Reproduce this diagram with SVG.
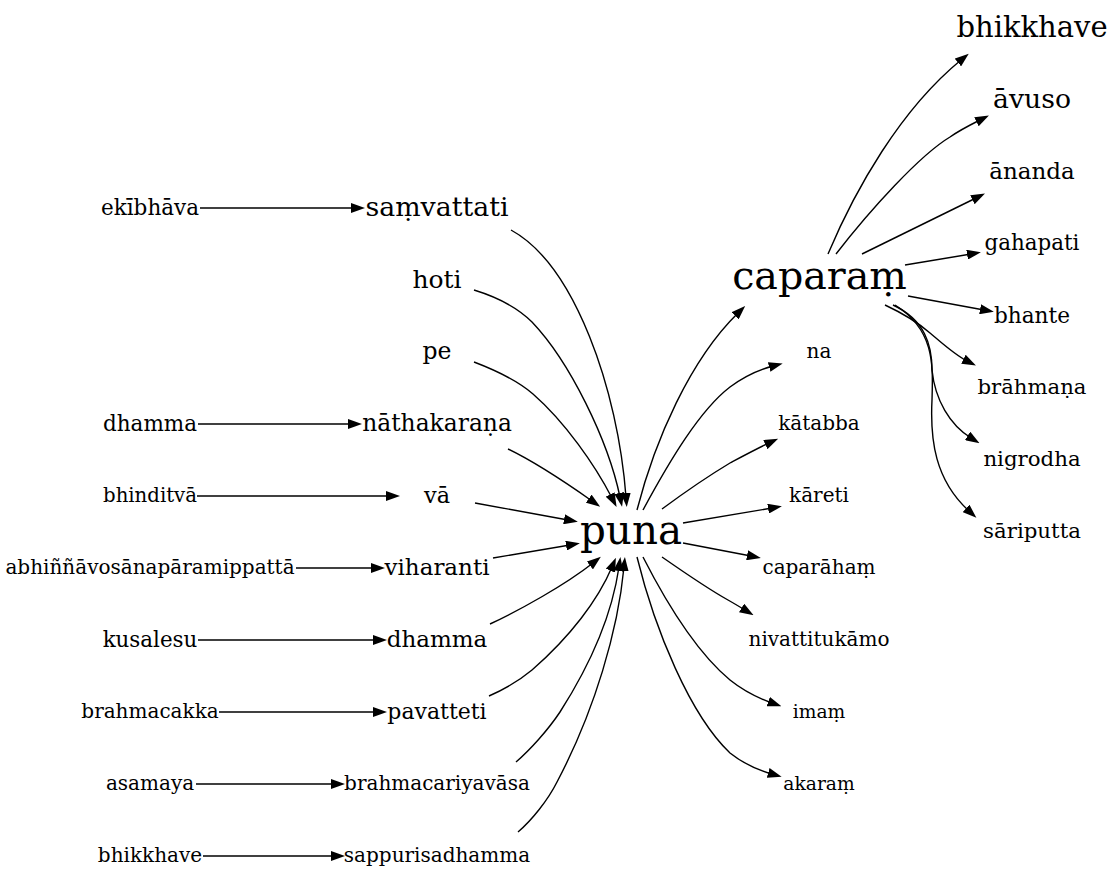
<svg xmlns="http://www.w3.org/2000/svg" width="1115" height="887" viewBox="0 0 1115 887">
<style>
text{font-family:"DejaVu Serif","Liberation Serif",serif;text-anchor:middle;fill:#000}
.e{fill:none;stroke:#000;stroke-width:1.4;marker-end:url(#ah)}
</style>
<defs>
<marker id="ah" markerWidth="14" markerHeight="10" refX="4" refY="5" orient="auto" markerUnits="userSpaceOnUse"><path d="M0,0 L14,5 L0,10 z" fill="#000"/></marker>
</defs>
<rect width="1115" height="887" fill="#fff"/>
<g id="edges">
<path class="e" d="M200,208 H355"/>
<path class="e" d="M198,424 H352"/>
<path class="e" d="M197,496 H390"/>
<path class="e" d="M296,568 H375"/>
<path class="e" d="M198,640 H377"/>
<path class="e" d="M219,712 H377"/>
<path class="e" d="M196,784 H335"/>
<path class="e" d="M203,856 H335"/>
<path class="e" d="M511,230 C575,265 618,390 626,497"/>
<path class="e" d="M474,290 C500,298 518,308 532,322 C570,362 608,440 620,497"/>
<path class="e" d="M474,362 C495,370 518,381 533,394 C565,422 595,465 612,498"/>
<path class="e" d="M508,449 C535,462 565,482 592,501"/>
<path class="e" d="M475,503 L568,520"/>
<path class="e" d="M493,558 L570,545"/>
<path class="e" d="M490,624 C520,610 565,585 593,563"/>
<path class="e" d="M489,696 C505,689 520,680 532,670 C570,637 598,600 612,567"/>
<path class="e" d="M516,762 C530,750 548,730 560,712 C592,662 612,615 619,567"/>
<path class="e" d="M518,832 C532,820 548,800 557,782 C595,710 618,630 624,567"/>
<path class="e" d="M637,510 C655,440 690,360 738,313"/>
<path class="e" d="M643,510 C670,460 700,410 730,387 C745,376 758,370 773,366"/>
<path class="e" d="M662,509 C685,492 710,475 730,463 C745,455 758,448 769,443"/>
<path class="e" d="M683,523 L772,508"/>
<path class="e" d="M683,543 L751,556"/>
<path class="e" d="M662,557 C685,573 710,590 728,600 C735,604 740,607 745,610"/>
<path class="e" d="M643,557 C670,610 700,655 730,680 C745,692 758,698 772,703"/>
<path class="e" d="M637,557 C655,630 690,715 730,753 C745,765 758,770 772,774"/>
<path class="e" d="M828,254 C855,190 900,110 961,60"/>
<path class="e" d="M836,254 C870,210 920,155 950,137 C960,130 970,125 980,120"/>
<path class="e" d="M862,254 L976,198"/>
<path class="e" d="M905,265 L971,254"/>
<path class="e" d="M908,296 L984,310"/>
<path class="e" d="M885,305 C900,312 915,320 930,333 C943,344 955,355 967,361"/>
<path class="e" d="M893,305 C925,320 932,345 932,370 C935,400 950,425 971,438"/>
<path class="e" d="M895,305 C935,330 933,365 932,400 C930,440 935,480 969,511"/>
</g>
<g id="n-ekibhava"><text x="150" y="214.5" font-size="21.5">ekībhāva</text></g>
<g id="n-dhamma-l"><text x="150" y="430.5" font-size="21.5">dhamma</text></g>
<g id="n-bhinditva"><text x="150" y="502" font-size="19.7">bhinditvā</text></g>
<g id="n-abhinna"><text x="150" y="574" font-size="20">abhiññāvosānapāramippattā</text></g>
<g id="n-kusalesu"><text x="150" y="646.5" font-size="21.4">kusalesu</text></g>
<g id="n-brahmacakka"><text x="150" y="718" font-size="20">brahmacakka</text></g>
<g id="n-asamaya"><text x="150" y="790" font-size="20">asamaya</text></g>
<g id="n-bhikkhave-l"><text x="150" y="862" font-size="20">bhikkhave</text></g>
<g id="n-samvattati"><text x="437" y="216" font-size="26.8">saṃvattati</text></g>
<g id="n-hoti"><text x="437" y="287.5" font-size="25">hoti</text></g>
<g id="n-pe"><text x="437" y="359" font-size="23.5">pe</text></g>
<g id="n-nathakarana"><text x="437" y="431" font-size="23.4">nāthakaraṇa</text></g>
<g id="n-va"><text x="437" y="502.7" font-size="22.4">vā</text></g>
<g id="n-viharanti"><text x="437" y="575" font-size="23">viharanti</text></g>
<g id="n-dhamma-m"><text x="437" y="647" font-size="23">dhamma</text></g>
<g id="n-pavatteti"><text x="437" y="718.6" font-size="22">pavatteti</text></g>
<g id="n-brahmacariyavasa"><text x="437" y="790" font-size="20">brahmacariyavāsa</text></g>
<g id="n-sappurisadhamma"><text x="437" y="862" font-size="20">sappurisadhamma</text></g>
<g id="n-puna"><text x="631" y="544" font-size="40.4">puna</text></g>
<g id="n-caparam"><text x="819.5" y="289" font-size="39.6">caparaṃ</text></g>
<g id="n-na"><text x="819" y="358" font-size="20">na</text></g>
<g id="n-katabba"><text x="819" y="430" font-size="20">kātabba</text></g>
<g id="n-kareti"><text x="819" y="502" font-size="20">kāreti</text></g>
<g id="n-caparaham"><text x="819" y="574" font-size="20">caparāhaṃ</text></g>
<g id="n-nivattitukamo"><text x="819" y="646" font-size="20">nivattitukāmo</text></g>
<g id="n-imam"><text x="819" y="717.6" font-size="18.7">imaṃ</text></g>
<g id="n-akaram"><text x="819" y="789.6" font-size="18.7">akaraṃ</text></g>
<g id="n-bhikkhave-r"><text x="1032" y="36.7" font-size="29">bhikkhave</text></g>
<g id="n-avuso"><text x="1032" y="108" font-size="26.7">āvuso</text></g>
<g id="n-ananda"><text x="1032" y="179" font-size="23">ānanda</text></g>
<g id="n-gahapati"><text x="1032" y="250.4" font-size="21.4">gahapati</text></g>
<g id="n-bhante"><text x="1032" y="322.5" font-size="21.6">bhante</text></g>
<g id="n-brahmana"><text x="1032" y="394.4" font-size="21.2">brāhmaṇa</text></g>
<g id="n-nigrodha"><text x="1032" y="466.4" font-size="21.3">nigrodha</text></g>
<g id="n-sariputta"><text x="1032" y="538.4" font-size="21.3">sāriputta</text></g>
</svg>
